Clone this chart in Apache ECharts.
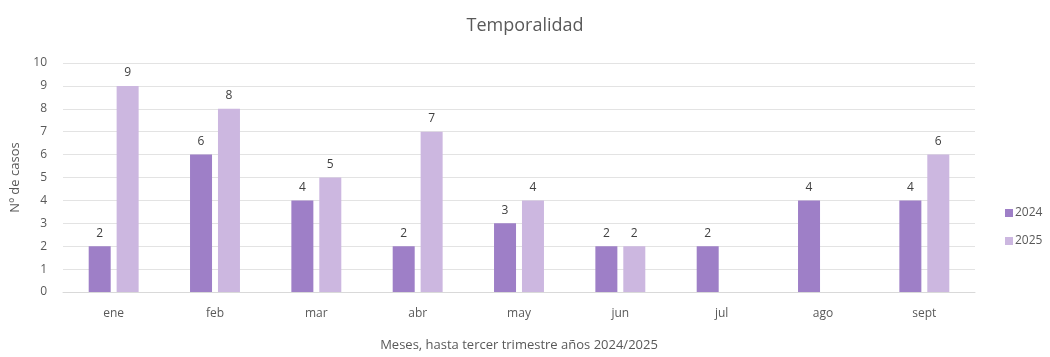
<!DOCTYPE html>
<html><head><meta charset="utf-8">
<script src="https://cdn.jsdelivr.net/npm/echarts@6/dist/echarts.min.js"></script>
<style>html,body{margin:0;padding:0;background:#fff}#c{width:1050px;height:357px}</style>
</head><body><div id="c"></div>
<script>
const categories = ['ene','feb','mar','abr','may','jun','jul','ago','sept'];
const values2024 = [2,6,4,2,3,2,2,4,4];
const values2025 = [9,8,5,7,4,2,null,null,6];
const seriesNames = ['2024','2025'];
const FONT = 'Open Sans';
const chart = echarts.init(document.getElementById('c'));
const lbl = {show:true, position:'top', color:'#404040', fontSize:12, fontFamily:FONT, distance:7};
chart.setOption({
  animation:false,
  title:{text:'Temporalidad', left:'center', top:12, textStyle:{fontFamily:FONT, fontSize:18, fontWeight:'normal', color:'#595959'}},
  legend:{orient:'vertical', left:1000, top:202, itemWidth:8, itemHeight:8, itemGap:16, icon:'rect',
    textStyle:{fontFamily:FONT, fontSize:12, color:'#595959', padding:[0,0,0,-3]}, data:seriesNames},
  grid:{left:63, right:75, top:63, bottom:56},
  xAxis:{type:'category', data:categories, name:'Meses, hasta tercer trimestre años 2024/2025', nameLocation:'middle', nameGap:47,
    nameTextStyle:{fontFamily:FONT, fontSize:13, color:'#595959'},
    axisLine:{lineStyle:{color:'#d9d9d9'}}, axisTick:{show:false},
    axisLabel:{fontFamily:FONT, fontSize:12, color:'#595959', margin:16}},
  yAxis:{type:'value', min:0, max:10, interval:1, name:'Nº de casos', nameLocation:'middle', nameGap:41,
    nameTextStyle:{fontFamily:FONT, fontSize:13, color:'#595959'},
    axisLine:{show:false}, axisTick:{show:false},
    splitLine:{lineStyle:{color:'#e3e3e3'}},
    axisLabel:{fontFamily:FONT, fontSize:12, color:'#595959', margin:16}},
  series:[
    {name:seriesNames[0], type:'bar', data:values2024, barWidth:22, barGap:'27%', itemStyle:{color:'#9e7fc7'}, label:lbl},
    {name:seriesNames[1], type:'bar', data:values2025, barWidth:22, itemStyle:{color:'#ccb7e0'}, label:lbl}
  ]
});
</script></body></html>
